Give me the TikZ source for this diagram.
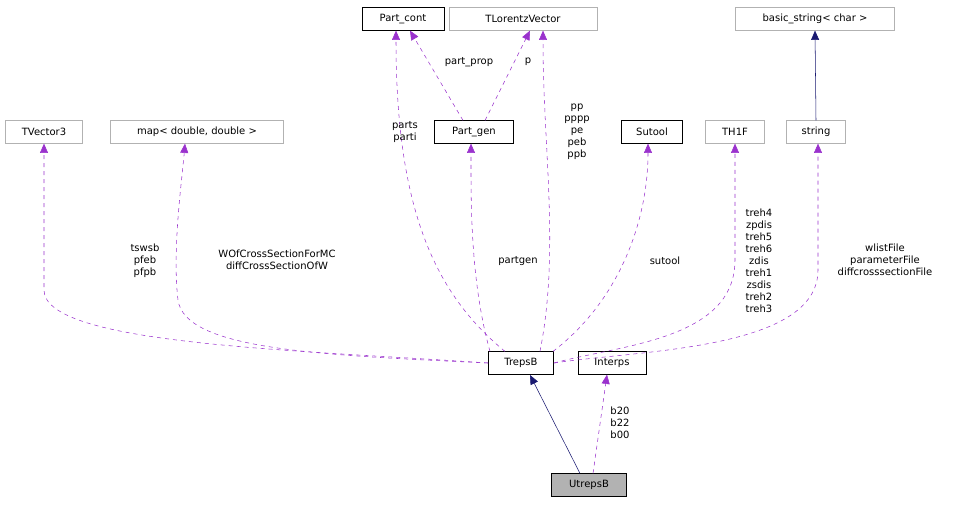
\documentclass[tikz,border=0pt]{standalone}
\usepackage{fontspec}
\setmainfont{DejaVu Sans}
\usetikzlibrary{arrows.meta}
\definecolor{usecol}{HTML}{9A32CD}
\definecolor{inhcol}{HTML}{191970}
\tikzset{
  cls/.style={draw=black, fill=white, inner sep=0pt, minimum height=17pt, font=\fontsize{7.5}{9}\selectfont},
  ext/.style={cls, draw=gray!60},
  uses/.style={usecol, dashed, -{Triangle[length=7pt,width=6pt]}},
  inherit/.style={inhcol, -{Triangle[length=7pt,width=6pt]}},
  lbl/.style={align=center, font=\fontsize{7.5}{9}\selectfont, inner sep=0pt}
}
\begin{document}
\begin{tikzpicture}[x=0.75pt,y=-0.75pt]
\useasboundingbox (0,0) rectangle (953,504);

\node [cls, minimum width=61.5pt] (cont) at (403,19) {Part\_cont};
\node [ext, minimum width=111pt] (tlv) at (523,19) {TLorentzVector};
\node [ext, minimum width=119pt] (bstr) at (815,19) {basic\_string< char >};
\node [ext, minimum width=58pt] (tv3) at (44,132) {TVector3};
\node [ext, minimum width=130pt] (map) at (197,132) {map< double, double >};
\node [cls, minimum width=59pt] (gen) at (474,132) {Part\_gen};
\node [cls, minimum width=46pt] (sutool) at (652,132) {Sutool};
\node [ext, minimum width=44pt] (th1f) at (735,132) {TH1F};
\node [ext, minimum width=44pt] (str) at (816,132) {string};
\node [cls, minimum width=49pt] (treps) at (521,363) {TrepsB};
\node [cls, minimum width=51pt] (interps) at (612,363) {Interps};
\node [cls, fill=gray!60, minimum width=56pt] (utreps) at (589,485) {UtrepsB};

% inheritance
\draw [inherit] (str.north) -- (bstr.south);
\draw [inherit] (utreps.north -| 580,0) -- (530,375);

% usage
\draw [uses] (gen.north -| 463,0) -- (cont.south -| 410,0);
\draw [uses] (gen.north -| 485,0) -- (tlv.south -| 530,0);
\draw [uses] (treps.north -| 505,0) .. controls (430,290) and (396,200) .. (cont.south -| 396,0);
\draw [uses] (treps.north -| 540,0) .. controls (560,250) and (543,150) .. (tlv.south -| 543,0);
\draw [uses] (treps.north -| 490,0) .. controls (470,280) and (471,200) .. (gen.south -| 471,0);
\draw [uses] (treps.north -| 553,0) .. controls (620,300) and (648,220) .. (sutool.south -| 648,0);
\draw [uses] (treps.east) .. controls (620,345) and (735,340) .. (735,260) -- (th1f.south);
\draw [uses] (treps.east) .. controls (640,350) and (818,350) .. (818,270) -- (str.south -| 818,0);
\draw [uses] (treps.west) .. controls (300,350) and (44,345) .. (44,290) -- (tv3.south);
\draw [uses] (treps.west) .. controls (320,355) and (185,350) .. (178,300) .. controls (172,250) and (182,180) .. (map.south -| 185,0);
\draw [uses] (utreps.north -| 593,0) -- (interps.south -| 607,0);

\node [lbl] (lcont) at (405,132) {parts\\parti};
\node [lbl] (lprop) at (469,62) {part\_prop};
\node [lbl] (lp) at (528,62) {p};
\node [lbl] (ltlv) at (577,132) {pp\\pppp\\pe\\peb\\ppb};
\node [lbl] (ltv3) at (145,261) {tswsb\\pfeb\\pfpb};
\node [lbl] (lmap) at (277,260) {WOfCrossSectionForMC\\diffCrossSectionOfW};
\node [lbl] (lgen) at (518,261) {partgen};
\node [lbl] (lsut) at (665,261) {sutool};
\node [lbl] (lth) at (759,261) {treh4\\zpdis\\treh5\\treh6\\zdis\\treh1\\zsdis\\treh2\\treh3};
\node [lbl] (lstr) at (885,260) {wlistFile\\parameterFile\\diffcrosssectionFile};
\node [lbl] (lint) at (620,423) {b20\\b22\\b00};
\end{tikzpicture}
\end{document}
